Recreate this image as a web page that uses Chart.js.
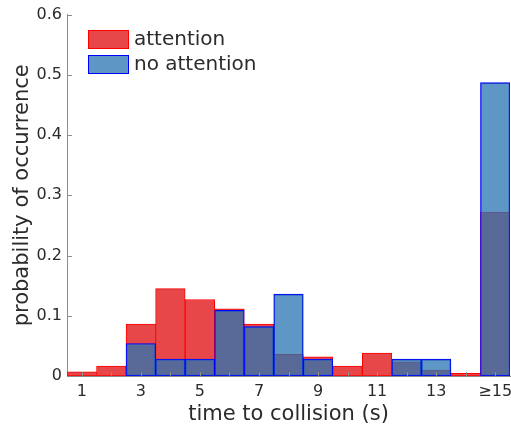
<!DOCTYPE html>
<html>
<head>
<meta charset="utf-8">
<script src="https://cdn.jsdelivr.net/npm/chart.js@4/dist/chart.umd.min.js"></script>
<style>
  html, body { margin: 0; padding: 0; background: #fff; }
  canvas { display: block; }
</style>
</head>
<body>
<canvas id="ttcChart" width="511" height="430"></canvas>
<script>
// time-to-collision bins (last bin collects everything >= 15 s)
const binLabels = ['1', '2', '3', '4', '5', '6', '7', '8', '9', '10', '11', '12', '13', '14', '\u226515'];
const attention = [0.007, 0.0165, 0.086, 0.145, 0.127, 0.1115, 0.086, 0.036, 0.032, 0.0165, 0.038, 0.0235, 0.01, 0.0045, 0.272];
const noAttention = [0, 0, 0.054, 0.028, 0.028, 0.109, 0.082, 0.136, 0.028, 0, 0, 0.028, 0.028, 0, 0.487];
const yTicks = [0, 0.1, 0.2, 0.3, 0.4, 0.5, 0.6];

const FONT = '"DejaVu Sans", sans-serif';
const TEXT = '#2b2b2b';
const AXIS = '#8c8c8c';

// legend drawn inside the plot, top-left, plus inward tick marks
const extras = {
    id: 'extras',
    afterDraw(chart) {
        const ctx = chart.ctx;
        const area = chart.chartArea;
        const x = chart.scales.x, y = chart.scales.y;
        ctx.save();
        ctx.strokeStyle = AXIS;
        ctx.lineWidth = 1;
        ctx.beginPath();
        yTicks.forEach(v => {
            const py = Math.round(y.getPixelForValue(v)) + 0.5;
            ctx.moveTo(area.left, py);
            ctx.lineTo(area.left + 5, py);
        });
        binLabels.forEach((_, i) => {
            const px = Math.round(x.getPixelForValue(i)) + 0.5;
            ctx.moveTo(px, area.bottom);
            ctx.lineTo(px, area.bottom - 4);
        });
        ctx.stroke();

        const items = chart.data.datasets;
        items.forEach((ds, i) => {
            const top = 30 + i * 25;
            ctx.fillStyle = '#ffffff';
            ctx.fillRect(88, top, 41, 19);
            ctx.fillStyle = ds.legendFill;
            ctx.fillRect(88, top, 41, 19);
            ctx.strokeStyle = ds.borderColor;
            ctx.strokeRect(88.5, top + 0.5, 40, 18);
            ctx.fillStyle = TEXT;
            ctx.font = '20px ' + FONT;
            ctx.textBaseline = 'middle';
            ctx.fillText(ds.label, 134, top + 10);
        });
        ctx.restore();
    }
};

const canvas = document.getElementById('ttcChart');
new Chart(canvas.getContext('2d'), {
    type: 'bar',
    data: {
        labels: binLabels,
        datasets: [
            {
                label: 'attention',
                data: attention,
                backgroundColor: '#e84749',
                legendFill: '#e84749',
                borderColor: '#ff0000',
                borderWidth: 1,
                borderSkipped: false,
                order: 1
            },
            {
                label: 'no attention',
                data: noAttention,
                backgroundColor: 'rgba(40, 116, 179, 0.75)',
                legendFill: 'rgba(40, 116, 179, 0.75)',
                borderColor: '#0000ff',
                borderWidth: 1,
                borderSkipped: false,
                order: 0
            }
        ]
    },
    options: {
        responsive: false,
        animation: false,
        layout: { padding: { top: 12, right: 1, left: 0, bottom: 0 } },
        datasets: {
            bar: { barPercentage: 1, categoryPercentage: 1, grouped: false }
        },
        plugins: {
            legend: { display: false },
            tooltip: { enabled: false }
        },
        scales: {
            x: {
                grid: { display: false, drawTicks: false },
                border: { color: AXIS, width: 1 },
                ticks: {
                    autoSkip: false,
                    maxRotation: 0,
                    padding: 6,
                    color: TEXT,
                    font: { family: FONT, size: 16 },
                    callback: (v, i) => (i % 2 === 0 ? binLabels[i] : '')
                },
                title: {
                    display: true,
                    text: 'time to collision (s)',
                    color: TEXT,
                    font: { family: FONT, size: 21 },
                    padding: { top: 0, bottom: 3 }
                },
                afterFit: s => {
                    s.height = 54;
                    s.paddingLeft = 0;
                    s.paddingRight = 0;
                }
            },
            y: {
                min: 0,
                max: 0.6,
                grid: { display: false, drawTicks: false },
                border: { color: AXIS, width: 1 },
                ticks: {
                    stepSize: 0.1,
                    padding: 5,
                    color: TEXT,
                    font: { family: FONT, size: 16 },
                    callback: v => String(Math.round(v * 10) / 10)
                },
                title: {
                    display: true,
                    text: 'probability of occurrence',
                    color: TEXT,
                    font: { family: FONT, size: 21 },
                    padding: { top: 10, bottom: 0 }
                },
                afterFit: s => { s.width = 67; }
            }
        }
    },
    plugins: [extras]
});
</script>
</body>
</html>
